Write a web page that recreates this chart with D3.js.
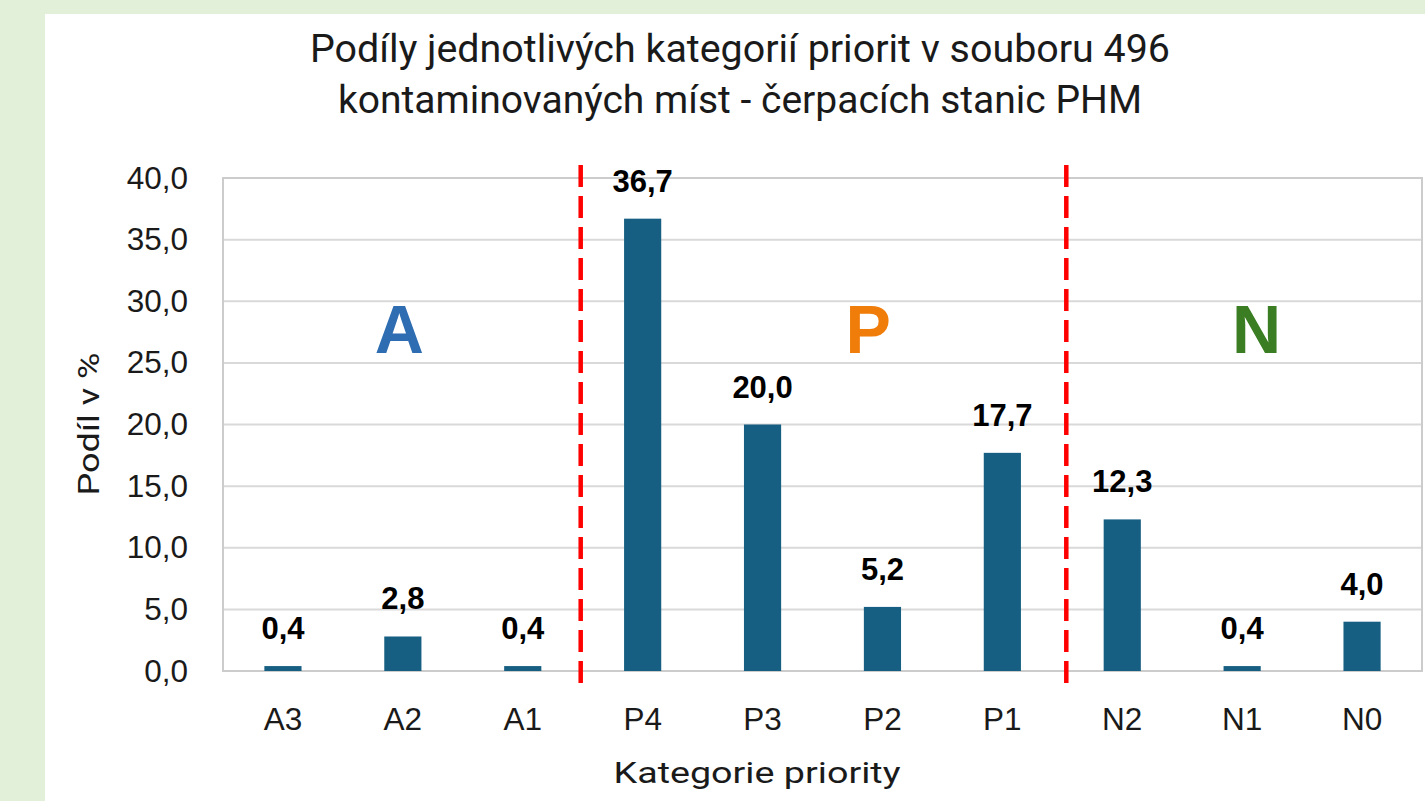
<!DOCTYPE html>
<html>
<head>
<meta charset="utf-8">
<script src="https://cdn.jsdelivr.net/npm/d3@7"></script>
<style>
  html, body { margin: 0; padding: 0; background: #e2f0d9; }
  svg { display: block; }
</style>
</head>
<body>
<svg id="chart" width="1425" height="801"></svg>
<script>
// Data
const categories = ["A3", "A2", "A1", "P4", "P3", "P2", "P1", "N2", "N1", "N0"];
const values = [0.4, 2.8, 0.4, 36.7, 20.0, 5.2, 17.7, 12.3, 0.4, 4.0];
const yTicks = [0, 5, 10, 15, 20, 25, 30, 35, 40];
const titleLines = ["Podíly jednotlivých kategorií priorit v souboru 496", "kontaminovaných míst - čerpacích stanic PHM"];
// group letters, placed at a fractional category index
const groupLetters = ["A", "P", "N"];
const groupPos = [1.47, 5.38, 8.62];
const groupColors = ["#2e6db2", "#f07c0a", "#3a7d22"];
// separators sit after these category indices
const separators = [3, 7];

const width = 1425;
const height = 801;
const margin = { top: 178, right: 3, bottom: 130, left: 223 };

const svg = d3.select("#chart");

// white panel on the green page
svg.append("rect")
    .attr("x", 45).attr("y", 14)
    .attr("width", width - 45).attr("height", height - 14)
    .attr("fill", "#ffffff");

const x = d3.scaleBand()
    .domain(categories)
    .range([margin.left, width - margin.right])
    .paddingInner(0.69)
    .paddingOuter(0.345);

const xi = d3.scaleLinear()
    .domain([0, categories.length])
    .range([margin.left, width - margin.right]);

const y = d3.scaleLinear()
    .domain([0, 40])
    .range([height - margin.bottom, margin.top]);

const fmt = v => d3.format(".1f")(v).replace(".", ",");

// gridlines
svg.append("g")
    .selectAll("line")
    .data(yTicks)
    .join("line")
    .attr("x1", margin.left).attr("x2", width - margin.right)
    .attr("y1", d => y(d)).attr("y2", d => y(d))
    .attr("stroke", "#d9d9d9")
    .attr("stroke-width", 2);

// plot border
svg.append("rect")
    .attr("x", margin.left).attr("y", y(40))
    .attr("width", width - margin.right - margin.left)
    .attr("height", y(0) - y(40))
    .attr("fill", "none")
    .attr("stroke", "#cccccc")
    .attr("stroke-width", 2);

// y axis tick labels
const yAxis = d3.axisLeft(y).tickValues(yTicks).tickFormat(fmt).tickSize(0).tickPadding(35);
svg.append("g")
    .attr("transform", `translate(${margin.left},0)`)
    .call(yAxis)
    .call(g => g.select(".domain").remove())
    .selectAll("text")
    .attr("font-family", "'Liberation Sans', Arial, sans-serif")
    .attr("font-size", 31.5)
    .attr("fill", "#1a1a1a");

// x axis labels
const xAxis = d3.axisBottom(x).tickSize(0).tickPadding(37);
svg.append("g")
    .attr("transform", `translate(0,${y(0)})`)
    .call(xAxis)
    .call(g => g.select(".domain").remove())
    .selectAll("text")
    .attr("font-family", "'Liberation Sans', Arial, sans-serif")
    .attr("font-size", 31.5)
    .attr("fill", "#1a1a1a");

// bars
svg.append("g")
    .selectAll("rect")
    .data(values)
    .join("rect")
    .attr("x", (d, i) => x(categories[i]))
    .attr("y", d => y(d))
    .attr("width", x.bandwidth())
    .attr("height", d => y(0) - y(d))
    .attr("fill", "#175f82");

// value labels
svg.append("g")
    .selectAll("text")
    .data(values)
    .join("text")
    .attr("x", (d, i) => x(categories[i]) + x.bandwidth() / 2)
    .attr("y", d => y(d) - 27)
    .attr("text-anchor", "middle")
    .attr("font-family", "'Liberation Sans', Arial, sans-serif")
    .attr("font-weight", "bold")
    .attr("font-size", 31)
    .attr("fill", "#000")
    .text(fmt);

// red dashed separators
svg.append("g")
    .selectAll("line")
    .data(separators)
    .join("line")
    .attr("x1", (d, i) => xi(d) + (i === 0 ? -2 : 4))
    .attr("x2", (d, i) => xi(d) + (i === 0 ? -2 : 4))
    .attr("y1", y(40) - 13)
    .attr("y2", y(0) + 19)
    .attr("stroke", "#ff0000")
    .attr("stroke-width", 4.5)
    .attr("stroke-dasharray", "22,9");

// group letters
svg.append("g")
    .selectAll("text")
    .data(groupLetters)
    .join("text")
    .attr("x", (d, i) => xi(groupPos[i]))
    .attr("y", y(25.8))
    .attr("text-anchor", "middle")
    .attr("font-family", "'Liberation Sans', Arial, sans-serif")
    .attr("font-weight", "bold")
    .attr("font-size", 68)
    .attr("fill", (d, i) => groupColors[i])
    .text(d => d);

// title
const titleWidths = [860, 804];
svg.append("g")
    .selectAll("text")
    .data(titleLines)
    .join("text")
    .attr("x", 740)
    .attr("y", (d, i) => 62 + i * 51)
    .attr("text-anchor", "middle")
    .attr("font-family", "Roboto, sans-serif")
    .attr("font-size", 38.5)
    .attr("fill", "#1a1a1a")
    .attr("textLength", (d, i) => titleWidths[i])
    .attr("lengthAdjust", "spacingAndGlyphs")
    .text(d => d);

// axis titles
svg.append("text")
    .attr("x", 757)
    .attr("y", 783)
    .attr("text-anchor", "middle")
    .attr("font-family", "Roboto, sans-serif")
    .attr("font-size", 30)
    .attr("fill", "#1a1a1a")
    .attr("textLength", 287)
    .attr("lengthAdjust", "spacingAndGlyphs")
    .text("Kategorie priority");

svg.append("text")
    .attr("transform", "translate(99,424) rotate(-90)")
    .attr("text-anchor", "middle")
    .attr("font-family", "Roboto, sans-serif")
    .attr("font-size", 30)
    .attr("fill", "#1a1a1a")
    .attr("textLength", 143)
    .attr("lengthAdjust", "spacingAndGlyphs")
    .text("Podíl v %");
</script>
</body>
</html>
